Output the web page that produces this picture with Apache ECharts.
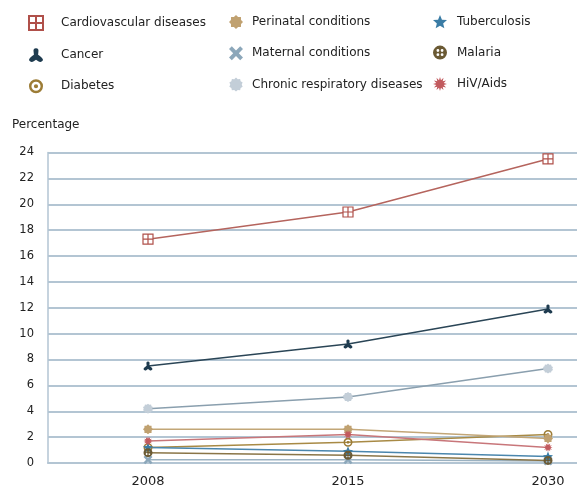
<!DOCTYPE html>
<html>
<head>
<meta charset="utf-8">
<script src="https://cdn.jsdelivr.net/npm/echarts@6/dist/echarts.min.js"></script>
<style>
  html, body { margin: 0; padding: 0; background: #fff; overflow: hidden; }
  /* plot area runs past the right edge of the window */
  #chart { width: 648px; height: 488px; }
</style>
</head>
<body>
<div id="chart"></div>
<script>
// Share of deaths by cause, per year (percent)
const years = ['2008', '2015', '2030'];
const yTicks = [0, 2, 4, 6, 8, 10, 12, 14, 16, 18, 20, 22, 24];

const cardiovascular = [17.3, 19.4, 23.5];
const cancer = [7.5, 9.2, 11.9];
const diabetes = [1.2, 1.6, 2.2];
const perinatal = [2.6, 2.6, 1.9];
const maternal = [0.25, 0.25, 0.15];
const chronicRespiratory = [4.2, 5.1, 7.3];
const tuberculosis = [1.2, 0.9, 0.5];
const malaria = [0.8, 0.6, 0.2];
const hivAids = [1.7, 2.2, 1.2];

// ---- marker shapes ----
function starPath(points, inner, rot) {
  const pts = [];
  for (let i = 0; i < points * 2; i++) {
    const r = i % 2 === 0 ? 10 : 10 * inner;
    const a = (rot || -Math.PI / 2) + i * Math.PI / points;
    pts.push((10 + r * Math.cos(a)).toFixed(2) + ',' + (10 + r * Math.sin(a)).toFixed(2));
  }
  return 'path://M' + pts.join(' L') + ' Z';
}
function circleSub(cx, cy, r, cw) {
  const s = cw ? 1 : 0;
  return 'M' + (cx + r) + ',' + cy + ' A' + r + ',' + r + ' 0 1,' + s + ' ' + (cx - r) + ',' + cy +
         ' A' + r + ',' + r + ' 0 1,' + s + ' ' + (cx + r) + ',' + cy + ' Z ';
}
const SYM = {
  boxCross: 'path://M0,0 L10,0 L10,10 L0,10 Z M5,0 L5,10 M0,5 L10,5',
  tripod: 'path://M5,0 C6.6,0 7,1.2 6.7,2.6 L6.5,4.6 C7.8,5.6 9.6,6.6 10,8.2 C9.6,9.8 7.8,10.2 6.6,9.2 L5,8.2 L3.4,9.2 C2.2,10.2 0.4,9.8 0,8.2 C0.4,6.6 2.2,5.6 3.5,4.6 L3.3,2.6 C3,1.2 3.4,0 5,0 Z',
  ringDot: 'path://' + circleSub(10, 10, 10, true) + circleSub(10, 10, 6.5, false) + circleSub(10, 10, 3, true),
  flower: starPath(8, 0.78),
  cross: 'path://M2,0 L5,3 L8,0 L10,2 L7,5 L10,8 L8,10 L5,7 L2,10 L0,8 L3,5 L0,2 Z',
  puff: starPath(10, 0.82),
  star: starPath(5, 0.45),
  dotted: 'path://' + circleSub(10, 10, 10, true) + circleSub(7, 7, 2, false) + circleSub(13, 7, 2, false) +
          circleSub(7, 13, 2, false) + circleSub(13, 13, 2, false),
  burst: starPath(12, 0.55)
};

const grid = '#b3c5d3';

const defs = [
  { name: 'Cardiovascular diseases', data: cardiovascular, line: '#b5645d', mark: '#b0504a', sym: SYM.boxCross, size: 10, hollow: true },
  { name: 'Cancer', data: cancer, line: '#2a4556', mark: '#1e3b4f', sym: SYM.tripod, size: 9 },
  { name: 'Diabetes', data: diabetes, line: '#a88a45', mark: '#9c7c36', sym: SYM.ringDot, size: 9 },
  { name: 'Perinatal conditions', data: perinatal, line: '#c2a677', mark: '#c0a170', sym: SYM.flower, size: 10 },
  { name: 'Maternal conditions', data: maternal, line: '#9bb2c2', mark: '#8ca7ba', sym: SYM.cross, size: 9 },
  { name: 'Chronic respiratory diseases', data: chronicRespiratory, line: '#8a9fae', mark: '#c3ced8', sym: SYM.puff, size: 10 },
  { name: 'Tuberculosis', data: tuberculosis, line: '#4a86ad', mark: '#3a7ca5', sym: SYM.star, size: 10 },
  { name: 'Malaria', data: malaria, line: '#8a7547', mark: '#6b5a34', sym: SYM.dotted, size: 9 },
  { name: 'HiV/Aids', data: hivAids, line: '#c8767a', mark: '#c25a5e', sym: SYM.burst, size: 9 }
];

const series = defs.map(d => ({
  name: d.name,
  type: 'line',
  data: d.data,
  symbol: d.sym,
  symbolSize: d.size,
  showAllSymbol: true,
  color: d.mark,
  lineStyle: { color: d.line, width: 1.5 },
  itemStyle: d.hollow
    ? { color: '#fff', borderColor: d.mark, borderWidth: 1.2 }
    : { color: d.mark, borderWidth: 0 },
  emphasis: { disabled: true },
  animation: false
}));

function legendItem(d) {
  return {
    name: d.name,
    icon: d.sym,
    itemStyle: d.hollow
      ? { color: '#fff', borderColor: d.mark, borderWidth: 2 }
      : { color: d.mark, borderWidth: 0 }
  };
}
function legendCol(items, left, pad) {
  return {
    orient: 'vertical',
    left: left,
    top: 10,
    itemWidth: 14,
    itemHeight: 14,
    itemGap: 17.3,
    selectedMode: false,
    data: items.map(legendItem),
    textStyle: { fontFamily: 'DejaVu Sans', fontSize: 12, color: '#222', padding: [0, 0, 0, pad] }
  };
}

const chart = echarts.init(document.getElementById('chart'), null, { renderer: 'canvas' });
chart.setOption({
  animation: false,
  backgroundColor: '#fff',
  legend: [
    legendCol([defs[0], defs[1], defs[2]], 23, 13),
    legendCol([defs[3], defs[4], defs[5]], 224, 4),
    legendCol([defs[6], defs[7], defs[8]], 428, 5)
  ],
  grid: { left: 48, top: 152.5, right: 0, bottom: 25, containLabel: false },
  graphic: [{
    type: 'text', left: 12, top: 119,
    style: { text: 'Percentage', font: '12px "DejaVu Sans"', fill: '#222' }
  }],
  xAxis: {
    type: 'category',
    data: years,
    boundaryGap: true,
    axisLine: { show: true, lineStyle: { color: grid, width: 2 } },
    axisTick: { show: false },
    axisLabel: { fontFamily: 'DejaVu Sans', fontSize: 13, color: '#222', margin: 12 }
  },
  yAxis: {
    type: 'value',
    min: yTicks[0],
    max: yTicks[yTicks.length - 1],
    interval: yTicks[1] - yTicks[0],
    axisLine: { show: true, lineStyle: { color: grid, width: 1.5 } },
    axisTick: { show: false },
    splitLine: { show: true, lineStyle: { color: grid, width: 2 } },
    axisLabel: { fontFamily: 'DejaVu Sans', fontSize: 11.5, color: '#222', margin: 14 }
  },
  series: series
});
</script>
</body>
</html>
